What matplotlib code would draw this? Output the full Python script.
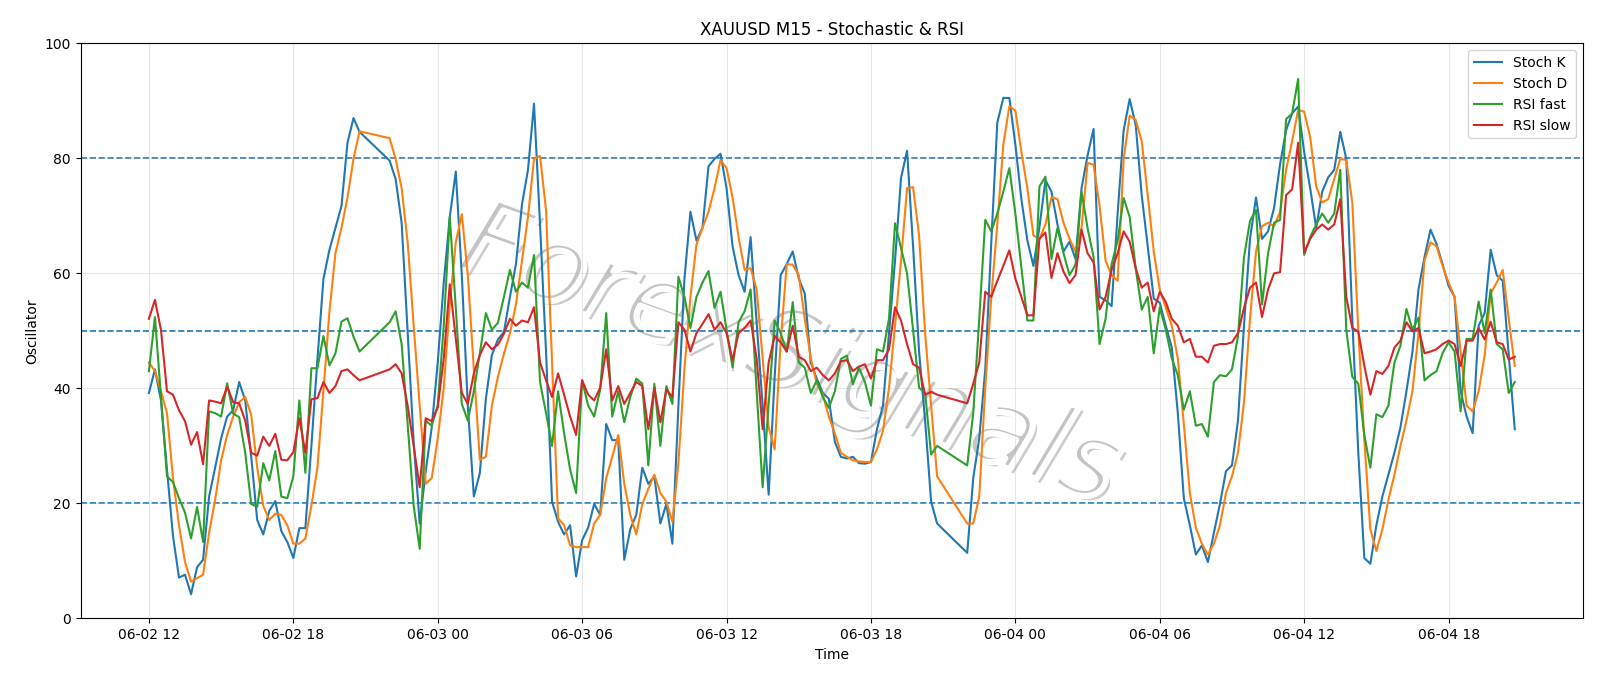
import matplotlib
matplotlib.use("Agg")
import matplotlib.pyplot as plt
import matplotlib.dates as mdates
import matplotlib.patheffects as pe
import numpy as np
import pandas as pd

# ---------------- data ----------------
TITLE = "XAUUSD M15 - Stochastic & RSI"
START = "2025-06-02 12:00"
END = "2025-06-04 20:45"
FREQ = "15min"
CLOSED_HOUR = 21  # daily break, bars missing

stoch_k = [
    39.2, 43.3, 37.9, 25.9, 14.3, 7.1, 7.6, 4.2, 8.9, 10.2,
    21.2, 26.2, 31.3, 35.1, 36.2, 41.1, 37.9, 28.1, 17.1, 14.6,
    18.7, 20.4, 15.2, 13.3, 10.5, 15.7, 15.7, 30.0, 45.0, 59.0,
    64.1, 67.9, 71.7, 82.7, 87.0, 84.6,
    79.6, 76.4, 68.8, 49.6, 30.7, 16.5, 25.6, 33.2, 44.5, 58.4,
    69.8, 77.7, 59.7, 37.0, 21.2, 25.3, 38.2, 45.8, 48.5, 49.8,
    55.9, 61.6, 72.0, 78.0, 89.5, 68.5, 46.4, 20.3, 16.8, 14.6,
    16.2, 7.3, 13.6, 15.8, 19.9, 18.0, 33.8, 31.0, 31.0, 10.2,
    15.5, 18.0, 26.2, 23.4, 24.7, 16.5, 19.9, 13.0, 37.0, 59.0,
    70.7, 65.7, 67.9, 78.6, 79.9, 80.8, 74.8, 64.7, 59.7, 56.8,
    66.3, 51.5, 37.0, 21.5, 42.0, 59.7, 61.6, 63.8, 59.1, 56.5,
    44.5, 41.7, 39.2, 38.2, 30.7, 28.1, 27.8, 28.1, 27.0, 26.9,
    27.2, 32.9, 37.0, 49.6, 62.2, 76.6, 81.3, 64.7, 46.4, 34.4,
    20.3, 16.5,
    11.4, 24.4, 31.3, 43.3, 65.4, 86.2, 90.5, 90.5, 82.4, 72.9,
    65.7, 61.3, 68.0, 76.2, 74.2, 68.5, 63.8, 65.5, 62.5, 74.8,
    80.5, 85.1, 55.9, 55.3, 54.3, 70.4, 84.9, 90.3, 85.8, 73.6,
    64.7, 55.6, 54.9, 50.9, 47.1, 35.7, 20.9, 16.2, 11.1, 12.7,
    9.8, 14.9, 19.9, 25.6, 26.6, 34.4, 50.9, 66.0, 73.2, 66.0,
    67.3, 71.4, 79.0, 84.9, 87.8, 89.0, 81.1, 74.8, 67.9, 74.2,
    76.7, 78.0, 84.6, 79.9, 52.0, 28.8, 10.5, 9.5, 16.2, 21.2,
    25.0, 28.8, 33.2, 39.5, 46.4, 57.2, 62.8, 67.6, 65.1, 61.6,
    57.8, 55.9, 39.5, 35.1, 32.2, 50.9, 53.1, 64.1, 59.7, 58.7,
    45.8, 32.9,
]

stoch_d = [
    44.5, 43.0, 39.5, 35.7, 24.4, 16.2, 9.8, 6.4, 7.0, 7.6,
    14.9, 20.6, 27.5, 31.9, 35.1, 37.6, 38.5, 35.4, 26.2, 19.6,
    17.1, 18.2, 18.0, 16.2, 13.0, 13.0, 13.9, 19.6, 26.2, 39.5,
    53.4, 63.5, 67.9, 73.2, 79.9, 84.7,
    83.5, 79.9, 74.8, 65.4, 50.9, 37.0, 23.4, 24.4, 31.3, 40.1,
    54.6, 65.4, 70.3, 59.7, 43.3, 27.6, 28.1, 37.0, 42.0, 46.0,
    49.6, 54.6, 62.2, 69.8, 79.9, 80.4, 71.0, 44.5, 17.4, 16.2,
    12.7, 12.4, 12.4, 12.4, 16.5, 18.0, 24.4, 28.1, 31.9, 23.4,
    18.0, 14.6, 19.9, 22.5, 25.0, 21.8, 20.3, 16.8, 27.0, 43.3,
    55.9, 65.0, 67.9, 70.7, 74.8, 79.7, 78.3, 73.2, 66.3, 60.6,
    60.9, 57.2, 45.2, 33.2, 29.4, 48.3, 61.6, 61.5, 59.7, 52.1,
    45.2, 40.8, 38.9, 35.1, 32.2, 28.8, 28.1, 27.5, 27.3, 27.2,
    27.2, 29.4, 32.6, 40.1, 50.9, 62.2, 74.8, 75.0, 66.6, 49.6,
    37.0, 24.7,
    16.5, 16.5, 21.2, 40.1, 55.9, 68.5, 82.4, 89.0, 88.3, 81.1,
    74.8, 66.6, 66.0, 68.5, 73.2, 72.9, 68.8, 66.0, 63.8, 67.9,
    79.2, 78.9, 71.7, 62.2, 59.7, 58.7, 79.9, 87.4, 86.7, 83.0,
    73.6, 63.8, 57.2, 54.0, 50.9, 45.2, 33.8, 21.8, 15.8, 13.0,
    11.1, 13.0, 16.2, 21.8, 24.7, 28.8, 37.6, 52.1, 63.8, 68.2,
    68.8, 68.2, 70.7, 78.0, 83.0, 88.4, 88.1, 83.7, 75.1, 72.3,
    72.9, 76.4, 79.9, 79.7, 72.3, 50.0, 31.0, 15.5, 11.7, 15.5,
    20.6, 25.0, 30.0, 34.4, 39.5, 49.6, 62.2, 65.4, 64.7, 61.3,
    58.4, 55.9, 46.4, 37.0, 36.0, 39.5, 45.8, 56.5, 58.4, 60.6,
    52.1, 43.9,
]

rsi_fast = [
    43.0, 52.4, 38.5, 24.7, 23.7, 20.9, 18.4, 13.9, 19.4, 13.3,
    36.0, 35.7, 35.1, 40.9, 35.6, 35.0, 28.8, 19.9, 19.4, 27.0,
    24.0, 29.1, 21.2, 20.9, 24.7, 37.9, 25.3, 43.5, 43.5, 49.1,
    44.0, 46.1, 51.6, 52.2, 49.0, 46.4,
    51.5, 53.4, 47.7, 33.8, 19.6, 12.1, 34.4, 33.5, 37.0, 50.9,
    69.8, 54.0, 37.3, 34.4, 39.5, 46.1, 53.1, 50.2, 51.4, 55.9,
    60.6, 56.8, 58.4, 57.5, 63.2, 41.1, 35.7, 30.0, 39.5, 32.2,
    25.9, 21.8, 41.4, 37.0, 35.1, 39.8, 53.1, 35.1, 39.5, 34.1,
    38.5, 41.7, 40.8, 26.6, 40.8, 30.0, 40.4, 37.3, 59.4, 55.9,
    50.5, 55.9, 58.4, 60.4, 54.0, 56.8, 50.2, 43.6, 51.5, 53.4,
    57.2, 39.5, 22.8, 37.3, 51.8, 49.6, 46.4, 55.0, 44.5, 43.6,
    39.2, 41.4, 38.5, 36.6, 39.5, 45.1, 45.7, 40.7, 43.6, 41.1,
    37.0, 46.8, 46.4, 52.1, 68.7, 64.4, 60.0, 50.2, 40.1, 39.2,
    28.5, 30.0,
    26.6, 35.7, 52.1, 69.3, 67.3, 70.4, 74.2, 78.3, 70.4, 61.0,
    51.8, 51.8, 75.1, 76.8, 62.5, 67.9, 63.5, 59.7, 61.5, 74.2,
    67.9, 62.8, 47.7, 52.1, 61.6, 65.7, 73.1, 69.8, 60.9, 53.7,
    55.9, 46.1, 54.1, 50.2, 45.2, 42.3, 36.3, 39.5, 33.5, 33.8,
    31.6, 41.1, 42.3, 42.1, 43.3, 49.0, 62.8, 69.1, 71.0, 54.6,
    63.5, 68.8, 69.3, 86.8, 87.8, 93.8, 63.2, 66.3, 68.5, 70.4,
    68.8, 70.4, 78.0, 50.2, 42.0, 40.8, 31.9, 26.2, 35.5, 35.0,
    37.0, 44.5, 47.4, 53.8, 50.2, 52.3, 41.4, 42.3, 43.0, 46.1,
    48.0, 46.4, 36.0, 48.6, 48.6, 55.1, 49.6, 57.2, 47.7, 46.8,
    39.2, 41.1,
]

rsi_slow = [
    52.1, 55.4, 50.2, 39.5, 38.9, 36.2, 34.3, 30.2, 32.4, 26.8,
    37.9, 37.7, 37.4, 40.3, 37.6, 37.4, 34.4, 28.8, 28.3, 31.6,
    30.0, 32.1, 27.6, 27.5, 28.9, 34.8, 28.8, 38.1, 38.3, 41.1,
    39.2, 40.4, 43.0, 43.3, 42.3, 41.4,
    43.3, 44.2, 42.6, 37.0, 30.0, 22.8, 34.8, 34.3, 36.7, 45.2,
    58.1, 48.6, 39.2, 37.3, 42.6, 45.8, 48.0, 46.8, 47.6, 49.5,
    52.1, 50.9, 51.8, 51.5, 54.1, 44.5, 41.4, 38.5, 42.6, 38.9,
    35.1, 31.9, 41.4, 38.9, 37.9, 40.1, 46.8, 37.9, 40.4, 37.3,
    39.2, 41.1, 40.4, 32.9, 40.1, 34.1, 39.8, 38.5, 51.5, 50.2,
    46.4, 49.6, 51.2, 52.9, 50.2, 51.5, 49.6, 44.9, 49.6, 50.5,
    51.8, 45.2, 32.9, 44.5, 49.1, 48.0, 46.4, 50.9, 45.5, 44.9,
    43.0, 43.6, 42.3, 41.4, 42.6, 44.7, 44.9, 43.0, 43.8, 44.2,
    41.7, 44.9, 44.9, 46.8, 54.1, 51.8, 47.7, 44.2, 43.6, 38.9,
    39.4, 38.9,
    37.4, 40.8, 44.5, 56.8, 55.9, 58.7, 61.3, 64.0, 59.1, 55.9,
    52.7, 52.7, 66.0, 67.1, 59.2, 63.5, 60.3, 58.3, 59.7, 67.6,
    63.5, 61.9, 53.7, 55.9, 60.6, 63.5, 67.3, 65.5, 60.9, 57.5,
    58.4, 53.4, 56.8, 55.0, 52.1, 50.9, 48.0, 48.6, 45.5, 45.5,
    44.5, 47.4, 47.7, 47.7, 48.0, 49.6, 54.0, 57.5, 58.4, 52.4,
    57.2, 60.0, 60.2, 73.6, 74.6, 82.7, 63.6, 66.0, 67.6, 68.5,
    67.6, 68.5, 72.9, 55.9, 50.5, 49.9, 43.9, 38.9, 43.0, 42.5,
    43.9, 47.1, 48.3, 51.5, 49.9, 50.5, 46.1, 46.4, 46.8, 47.7,
    48.3, 47.7, 43.9, 48.3, 48.3, 50.5, 48.5, 51.6, 48.0, 47.7,
    45.0, 45.5,
]

levels = [20, 50, 80]
series = [("Stoch K", stoch_k), ("Stoch D", stoch_d),
          ("RSI fast", rsi_fast), ("RSI slow", rsi_slow)]

# ---------------- time index ----------------
idx = pd.date_range(START, END, freq=FREQ)
idx = idx[idx.hour != CLOSED_HOUR]
for name, vals in series:
    assert len(vals) == len(idx), (name, len(vals), len(idx))

# ---------------- plot ----------------
fig = plt.figure(figsize=(16, 6.86), dpi=100)
ax = fig.add_subplot(111)
fig.subplots_adjust(left=0.0504, right=0.9894, top=0.9369, bottom=0.0985)

# watermark: thin light-grey italic letters with a soft grey shadow
ax.text(0.472, 0.455, "ForexSignals", transform=ax.transAxes,
        ha="center", va="center", rotation=-20, fontsize=78,
        fontstyle="italic", color="#c4c4c4",
        zorder=0.5,
        path_effects=[pe.withSimplePatchShadow(offset=(3, -3),
                                               shadow_rgbFace="#8c8c8c",
                                               alpha=0.45),
                      pe.Stroke(linewidth=4.5, foreground="white")])

for i, (name, vals) in enumerate(series):
    ax.plot(idx, vals, color=f"C{i}", lw=1.5, label=name, zorder=2 + i * 0.1)

for lv in levels:
    ax.axhline(lv, color="C0", linestyle="--", lw=1.2, zorder=1.5)

ax.set_ylim(0, 100)
ax.grid(True, alpha=0.3)
ax.xaxis.set_major_locator(mdates.HourLocator(byhour=[0, 6, 12, 18]))
ax.xaxis.set_major_formatter(mdates.DateFormatter("%m-%d %H"))
ax.set_title(TITLE)
ax.set_xlabel("Time")
ax.set_ylabel("Oscillator")
ax.legend(loc="upper right")

fig.savefig("out.png", dpi=100)
